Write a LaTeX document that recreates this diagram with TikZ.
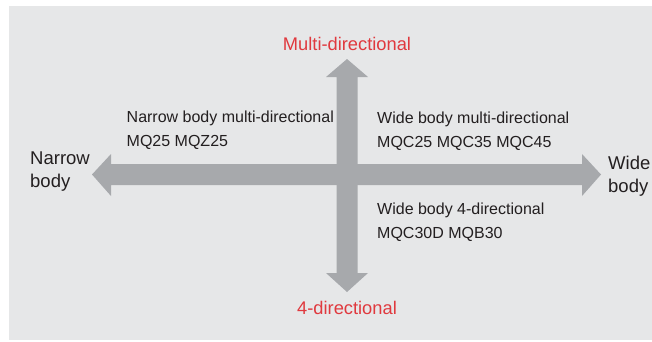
\documentclass[tikz,border=0pt]{standalone}
\usepackage{fontspec}
\setmainfont{Liberation Sans}
\definecolor{bgc}{HTML}{E6E7E8}
\definecolor{arr}{HTML}{A7A9AC}
\definecolor{redt}{HTML}{E0393E}
\definecolor{txt}{HTML}{231F20}
\begin{document}
\begin{tikzpicture}[x=1pt,y=-1pt,
  lbl/.style={inner sep=0pt,anchor=base west,text=txt,font=\fontsize{16}{19}\selectfont},
  side/.style={inner sep=0pt,anchor=base west,text=txt,font=\fontsize{18.5}{22}\selectfont},
  axis/.style={inner sep=0pt,anchor=base,text=redt,font=\fontsize{18.3}{22}\selectfont},
  arrowshape/.style={fill=arr,draw=none}]
\useasboundingbox (0,0) rectangle (652,341);
\fill[white] (0,0) rectangle (652,341);
\fill[bgc] (9,6) rectangle (652,340);
% horizontal double arrow
\fill[arrowshape] (92,174.5) -- (111,154) -- (111,164) -- (582,164) -- (582,154) -- (601,174.5)
  -- (582,196) -- (582,185) -- (111,185) -- (111,196) -- cycle;
% vertical double arrow
\fill[arrowshape] (347,59) -- (368,77) -- (357.5,77) -- (357.5,273) -- (368,273) -- (347,292)
  -- (326,273) -- (336.5,273) -- (336.5,77) -- (326,77) -- cycle;
% axis labels
\node[axis] (top) at (347,50) {Multi-directional};
\node[axis] (bot) at (347,314) {4-directional};
\node[side] (nb1) at (30,164) {Narrow};
\node[side] (nb2) at (30,187) {body};
\node[side] (wb1) at (608,169) {Wide};
\node[side] (wb2) at (608,192) {body};
% quadrant labels
\node[lbl] (q1a) at (126.5,122) {Narrow body multi-directional};
\node[lbl] (q1b) at (126.5,146) {MQ25 MQZ25};
\node[lbl] (q2a) at (377,123) {Wide body multi-directional};
\node[lbl] (q2b) at (377,147) {MQC25 MQC35 MQC45};
\node[lbl] (q3a) at (377,214) {Wide body 4-directional};
\node[lbl] (q3b) at (377,238) {MQC30D MQB30};
\end{tikzpicture}
\end{document}
